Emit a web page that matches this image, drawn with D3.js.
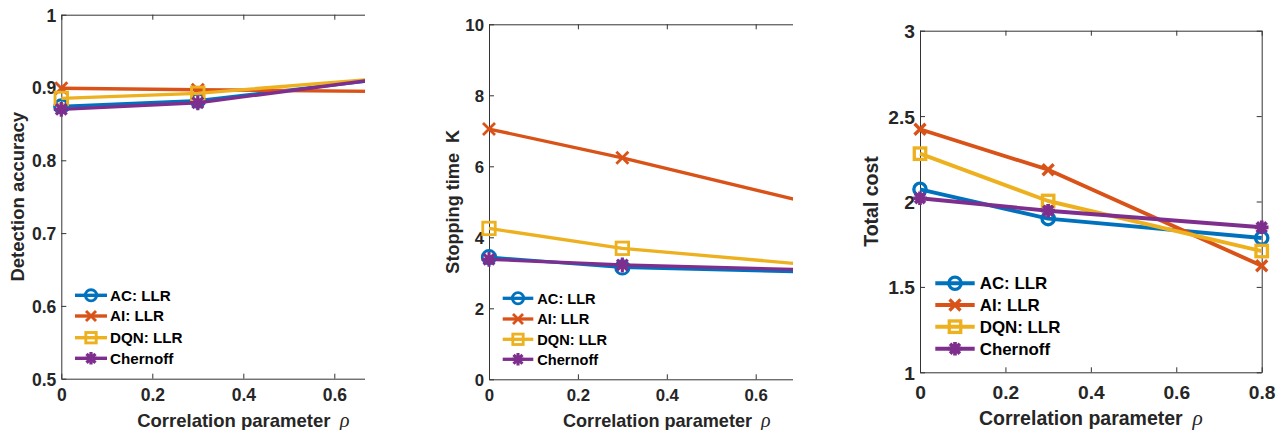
<!DOCTYPE html>
<html><head><meta charset="utf-8">
<script src="https://cdn.jsdelivr.net/npm/d3@7"></script>
<style>body{margin:0;background:#fff}svg{display:block}</style>
</head><body>
<svg id="c" width="1283" height="430"></svg>
<script>
// ---- data ----
const rho = [0, 0.3, 0.8];
const methods = ["AC: LLR", "AI: LLR", "DQN: LLR", "Chernoff"];
const xTicks = [0, 0.2, 0.4, 0.6, 0.8];

const accuracyAC = [0.874, 0.882, 0.918];
const accuracyAI = [0.899, 0.897, 0.894];
const accuracyDQN = [0.885, 0.892, 0.917];
const accuracyChernoff = [0.870, 0.879, 0.920];
const accuracyTicks = [0.5, 0.6, 0.7, 0.8, 0.9, 1];

const stopAC = [3.44, 3.15, 3.00];
const stopAI = [7.05, 6.24, 4.73];
const stopDQN = [4.25, 3.69, 3.14];
const stopChernoff = [3.38, 3.22, 3.06];
const stopTicks = [0, 2, 4, 6, 8, 10];

const costAC = [2.071, 1.900, 1.786];
const costAI = [2.423, 2.186, 1.624];
const costDQN = [2.280, 2.003, 1.710];
const costChernoff = [2.019, 1.946, 1.849];
const costTicks = [1, 1.5, 2, 2.5, 3];

// ---- styles ----
const colors = ["#0072BD", "#D95319", "#EDB120", "#7E2F8E"];
const markers = ["circle", "x", "square", "asterisk"];
const txt = "#262626";

const panels = [
  {series:[accuracyAC, accuracyAI, accuracyDQN, accuracyChernoff], yDomain:[0.5,1], yTicks:accuracyTicks,
   fmt:d=>d===1?"1":d3.format(".1f")(d),
   x0:61.3, x1:425.3, top:14.7, bottom:378.7, bgLeft:0,
   ylabel:"Detection accuracy", ylabX:24, tickFs:17.5, labFs:18.5, legFs:15.2, lw:3.4, ms:1, dms:1.2,
   leg:{x1:75, x2:107, tx:110, ys:[295.3,316,337.7,358.3]}, tickBase:401, xlabBase:426.5},
  {series:[stopAC, stopAI, stopDQN, stopChernoff], yDomain:[0,10], yTicks:stopTicks,
   fmt:d=>String(d),
   x0:489, x1:844.6, top:24.3, bottom:379.3, bgLeft:365,
   ylabel:"Stopping time  K", ylabX:459, tickFs:16.8, labFs:18.1, legFs:14.6, lw:3.3, ms:1, dms:1.2,
   leg:{x1:502.7, x2:533.3, tx:537.3, ys:[298.3,319,339.3,359.3]}, tickBase:401.5, xlabBase:426.5},
  {series:[costAC, costAI, costDQN, costChernoff], yDomain:[1,3], yTicks:costTicks,
   fmt:d=>String(d),
   x0:920, x1:1261.7, top:30.7, bottom:372.3, bgLeft:793,
   ylabel:"Total cost", ylabX:878, tickFs:19.2, labFs:19.5, legFs:16.9, lw:3.9, ms:1.1, dms:1.1,
   leg:{x1:935.3, x2:974.7, tx:979.7, ys:[283.3,305,326.7,348.7]}, tickBase:399, xlabBase:425, box:true}
];

const svg = d3.select("#c");

function drawMarker(g, type, x, y, color, lw, s) {
  const m = g.append("g").attr("transform", `translate(${x},${y})`)
    .attr("stroke", color).attr("fill", "none").attr("stroke-width", lw * 0.85);
  if (type === "circle") {
    m.append("circle").attr("r", 5.6 * s);
  } else if (type === "square") {
    m.append("rect").attr("x", -5.2 * s).attr("y", -5.2 * s).attr("width", 10.4 * s).attr("height", 10.4 * s);
  } else if (type === "x") {
    const h = 5 * s;
    m.append("path").attr("d", `M${-h},${-h}L${h},${h}M${-h},${h}L${h},${-h}`);
  } else {
    const h = 6.2 * s, d = h * 0.72;
    m.attr("stroke-width", lw * 0.95);
    m.append("path").attr("d", `M0,${-h}L0,${h}M${-h},0L${h},0M${-d},${-d}L${d},${d}M${-d},${d}L${d},${-d}`);
  }
}

panels.forEach((p, pi) => {
  const g = svg.append("g");
  // background covering the previous panel's overflow
  g.append("rect").attr("x", p.bgLeft).attr("y", 0).attr("width", 1283 - p.bgLeft).attr("height", 430).attr("fill", "#fff");

  const x = d3.scaleLinear().domain([0, 0.8]).range([p.x0, p.x1]);
  const y = d3.scaleLinear().domain(p.yDomain).range([p.bottom, p.top]);

  // axes with inward ticks
  const tl = 5;
  const xa = d3.axisBottom(x).tickValues(xTicks).tickSizeInner(-tl).tickSizeOuter(0).tickFormat(d => d === 0 ? "0" : d3.format(".1f")(d));
  const ya = d3.axisLeft(y).tickValues(p.yTicks).tickSizeInner(-tl).tickSizeOuter(0).tickFormat(p.fmt);

  const gx = g.append("g").attr("transform", `translate(0,${p.bottom})`).call(xa);
  const gy = g.append("g").attr("transform", `translate(${p.x0},0)`).call(ya);
  [gx, gy].forEach(a => {
    a.select(".domain").attr("stroke", "#333").attr("stroke-width", 1);
    a.selectAll(".tick line").attr("stroke", "#333").attr("stroke-width", 1);
    a.selectAll(".tick text").attr("fill", txt).attr("font-family", "Liberation Sans, Arial, sans-serif")
      .attr("font-weight", "bold").attr("font-size", p.tickFs);
  });
  gx.selectAll(".tick text").attr("y", null).attr("dy", null).attr("dominant-baseline", "alphabetic")
    .attr("y", p.tickBase - p.bottom);
  gy.selectAll(".tick text").attr("x", -5).attr("dy", "0.36em");

  // top axis (box)
  const ta = d3.axisTop(x).tickValues(xTicks).tickSizeInner(-tl).tickSizeOuter(0).tickFormat("");
  const gt = g.append("g").attr("transform", `translate(0,${p.top})`).call(ta);
  gt.select(".domain").attr("stroke", "#333");
  gt.selectAll(".tick line").attr("stroke", "#333");
  if (p.box) {
    const ra = d3.axisRight(y).tickValues(p.yTicks).tickSizeInner(-tl).tickSizeOuter(0).tickFormat("");
    const gr = g.append("g").attr("transform", `translate(${p.x1},0)`).call(ra);
    gr.select(".domain").attr("stroke", "#333");
    gr.selectAll(".tick line").attr("stroke", "#333");
  }

  // series
  const line = d3.line().x((d, i) => x(rho[i])).y(d => y(d));
  p.series.forEach((vals, si) => {
    const sg = g.append("g");
    sg.append("path").datum(vals).attr("d", line).attr("fill", "none")
      .attr("stroke", colors[si]).attr("stroke-width", p.lw).attr("stroke-linejoin", "round");
    vals.forEach((v, i) => drawMarker(sg, markers[si], x(rho[i]), y(v), colors[si], p.lw, p.dms));
  });

  // legend
  methods.forEach((m, si) => {
    const ly = p.leg.ys[si];
    g.append("line").attr("x1", p.leg.x1).attr("x2", p.leg.x2).attr("y1", ly).attr("y2", ly)
      .attr("stroke", colors[si]).attr("stroke-width", p.lw);
    drawMarker(g, markers[si], (p.leg.x1 + p.leg.x2) / 2, ly, colors[si], p.lw, p.ms);
    g.append("text").attr("x", p.leg.tx).attr("y", ly).attr("dy", "0.36em")
      .attr("font-family", "Liberation Sans, Arial, sans-serif").attr("font-weight", "bold")
      .attr("font-size", p.legFs).attr("fill", "#000").text(m);
  });

  // x label
  const xl = g.append("text").attr("x", (p.x0 + p.x1) / 2).attr("y", p.xlabBase).attr("text-anchor", "middle")
    .attr("font-family", "Liberation Sans, Arial, sans-serif").attr("font-weight", "bold")
    .attr("font-size", p.labFs).attr("fill", txt);
  xl.append("tspan").text("Correlation parameter");
  xl.append("tspan").attr("dx", p.labFs * 0.5).attr("font-family", "Liberation Serif, Times New Roman, serif")
    .attr("font-style", "italic").attr("font-weight", "normal").attr("font-size", p.labFs * 1.1).text("ρ");

  // y label
  g.append("text").attr("transform", `translate(${p.ylabX},${(p.top + p.bottom) / 2}) rotate(-90)`)
    .attr("text-anchor", "middle").attr("font-family", "Liberation Sans, Arial, sans-serif")
    .attr("font-weight", "bold").attr("font-size", p.labFs).attr("fill", txt)
    .attr("xml:space", "preserve").style("white-space", "pre").text(p.ylabel);
});
</script>
</body></html>
